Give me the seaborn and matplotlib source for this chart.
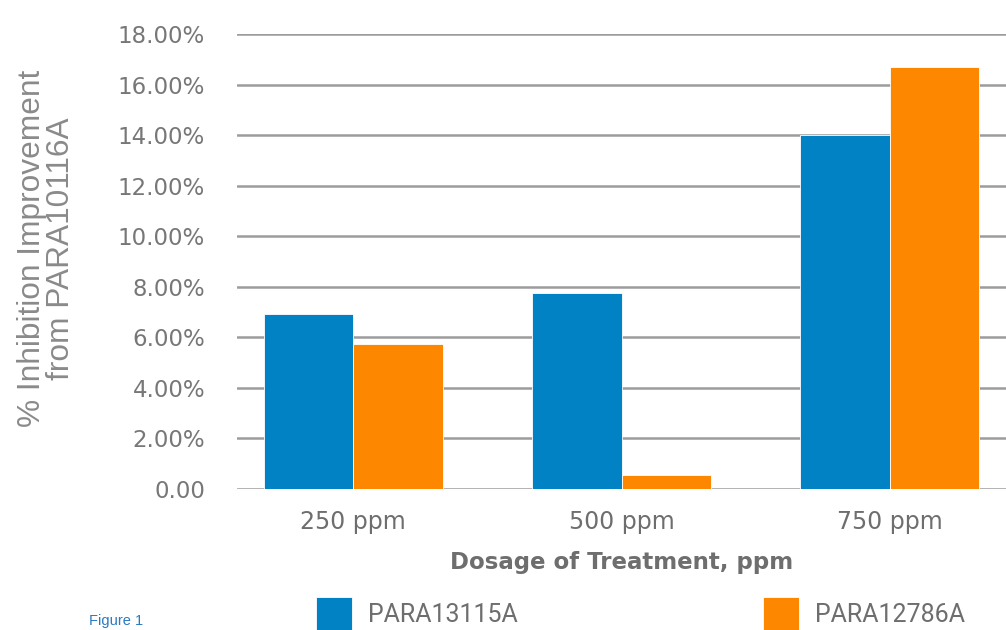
import matplotlib
matplotlib.use("Agg")
import matplotlib.pyplot as plt
import seaborn as sns
import pandas as pd

dosages = ["250 ppm", "500 ppm", "750 ppm"]
para13115a = [6.92, 7.75, 14.0]
para12786a = [5.74, 0.55, 16.7]
series_names = ["PARA13115A", "PARA12786A"]
ytick_labels = ["0.00", "2.00%", "4.00%", "6.00%", "8.00%", "10.00%",
                "12.00%", "14.00%", "16.00%", "18.00%"]

df = pd.DataFrame({
    "dosage": dosages * 2,
    "value": para13115a + para12786a,
    "series": [series_names[0]] * 3 + [series_names[1]] * 3,
})

sns.set_theme(style="white")
plt.rcParams["font.family"] = ["DejaVu Sans"]

fig = plt.figure(figsize=(10.06, 6.3), dpi=100)
ax = fig.add_axes([0.2356, 0.2238, 0.7644, 0.7222])

palette = {series_names[0]: "#0082c4", series_names[1]: "#fd8800"}
sns.barplot(data=df, x="dosage", y="value", hue="series", palette=palette,
            width=0.667, saturation=1, ax=ax, edgecolor="white", linewidth=0.6)

ax.set_xlim(-0.433, 2.433)
ax.set_ylim(0, 18)
ax.set_yticks(range(0, 19, 2))
ax.set_yticklabels(ytick_labels)
ax.yaxis.grid(True, color="#9c9c9c", linewidth=1.8)
ax.set_axisbelow(True)
for s in ax.spines.values():
    s.set_visible(False)
ax.tick_params(axis="y", length=0, pad=23, labelsize=16.5, labelcolor="#777777")
ax.tick_params(axis="x", length=0, pad=15, labelsize=17, labelcolor="#6e6e6e")
ax.set_xlabel("Dosage of Treatment, ppm", fontsize=16.5, fontweight="bold",
              color="#6e6e6e", labelpad=12)
ax.set_ylabel("")

fig.text(0.046, 0.606, "% Inhibition Improvement\nfrom PARA10116A",
         rotation=90, ha="center", va="center", fontsize=22.8, color="#8a8a8a",
         family=["Liberation Sans", "DejaVu Sans"], linespacing=0.95)

handles, labels = ax.get_legend_handles_labels()
ax.legend_.remove()
fig.legend(handles, labels, loc="upper left", bbox_to_anchor=(0.314, 0.0524),
           ncol=2, frameon=False,
           prop={"family": ["Roboto", "DejaVu Sans"], "size": 18},
           handlelength=1.44, handleheight=1.7, handletextpad=0.64,
           columnspacing=9.8, labelcolor="#6e6e6e", borderpad=0,
           borderaxespad=0)

fig.text(0.088, 0.003, "Figure 1", color="#2a7ac0", fontsize=10.5,
         family=["Liberation Sans", "DejaVu Sans"], va="bottom")

fig.savefig("out.png", dpi=100)
